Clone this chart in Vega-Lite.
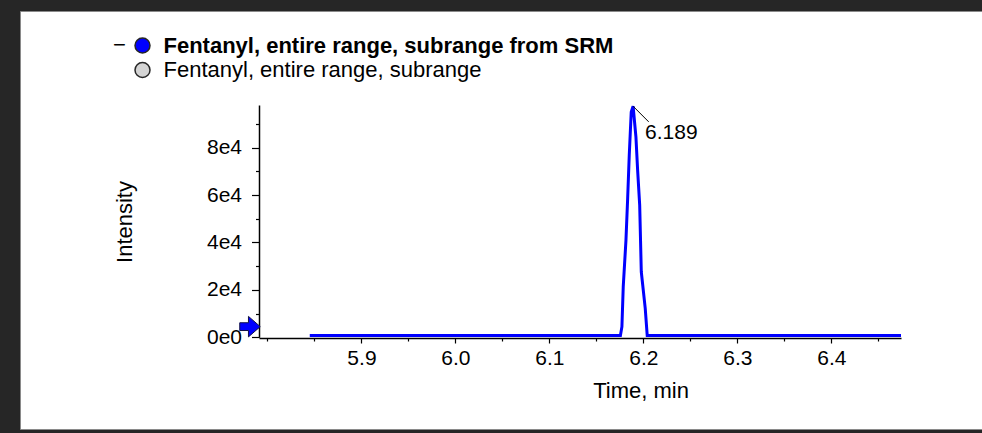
{
  "$schema": "https://vega.github.io/schema/vega-lite/v6.json",
  "width": 977,
  "height": 418,
  "autosize": {"type": "none"},
  "padding": {"left": 20, "top": 11, "right": -15, "bottom": 4},
  "background": "#262626",
  "config": {
    "font": "Liberation Sans",
    "view": {"fill": "#ffffff", "stroke": "#8a8a8a", "strokeWidth": 1},
    "axis": {
      "grid": false,
      "domainColor": "#000000",
      "domainWidth": 1.5,
      "tickColor": "#000000",
      "tickWidth": 1.2,
      "labelColor": "#000000",
      "titleColor": "#000000",
      "labelFont": "Liberation Sans",
      "labelFontSize": 21,
      "titleFont": "Liberation Sans",
      "titleFontSize": 22,
      "titleFontWeight": "normal",
      "labelFlush": false,
      "labelOverlap": false
    }
  },
  "datasets": {
    "trace": [
      {"time": 5.845, "intensity": 800},
      {"time": 5.9, "intensity": 800},
      {"time": 6.0, "intensity": 800},
      {"time": 6.1, "intensity": 800},
      {"time": 6.1755, "intensity": 800},
      {"time": 6.1771, "intensity": 4470},
      {"time": 6.1785, "intensity": 21320},
      {"time": 6.1814, "intensity": 41000},
      {"time": 6.1832, "intensity": 58570},
      {"time": 6.1849, "intensity": 76820},
      {"time": 6.187, "intensity": 95070},
      {"time": 6.189, "intensity": 97470},
      {"time": 6.192, "intensity": 84530},
      {"time": 6.1938, "intensity": 70500},
      {"time": 6.196, "intensity": 55750},
      {"time": 6.1977, "intensity": 27640},
      {"time": 6.2019, "intensity": 12220},
      {"time": 6.204, "intensity": 800},
      {"time": 6.3, "intensity": 800},
      {"time": 6.4, "intensity": 800},
      {"time": 6.474, "intensity": 800}
    ],
    "marker": [
      {"time": 5.791, "intensity": 4500}
    ]
  },
  "layer": [
    {
      "data": {"name": "trace"},
      "mark": {"type": "line", "color": "#0000ff", "strokeWidth": 3},
      "encoding": {
        "x": {
          "field": "time",
          "type": "quantitative",
          "title": "Time, min",
          "scale": {"domain": [5.791, 6.474], "range": [239, 881], "nice": false, "zero": false},
          "axis": {
            "orient": "bottom",
            "offset": -91,
            "titleX": 620.5,
            "titleY": 52,
            "titleBaseline": "middle",
            "titleAlign": "center",
            "values": [5.8, 5.85, 5.9, 5.95, 6.0, 6.05, 6.1, 6.15, 6.2, 6.25, 6.3, 6.35, 6.4, 6.45],
            "labelExpr": "abs(datum.value * 10 - round(datum.value * 10)) < 0.001 && datum.value > 5.85 ? format(datum.value, '.1f') : ''",
            "tickSize": {"condition": {"test": "abs(datum.value * 10 - round(datum.value * 10)) < 0.001 && datum.value > 5.85", "value": 5}, "value": 3},
            "labelPadding": 4
          }
        },
        "y": {
          "field": "intensity",
          "type": "quantitative",
          "title": "Intensity",
          "scale": {"domain": [0, 98000], "range": [326.3, 94], "nice": false, "zero": false},
          "axis": {
            "orient": "left",
            "offset": -239,
            "titleX": -135,
            "titleY": 210.5,
            "titleAngle": -90,
            "titleBaseline": "middle",
            "titleAlign": "center",
            "values": [0, 10000, 20000, 30000, 40000, 50000, 60000, 70000, 80000, 90000],
            "labelExpr": "datum.value % 20000 === 0 ? replace(format(datum.value, '.0e'), '+', '') : ''",
            "tickSize": {"condition": {"test": "datum.value % 20000 === 0", "value": 7.5}, "value": 3.5},
            "labelPadding": 10
          }
        }
      }
    },
    {
      "data": {"name": "marker"},
      "mark": {
        "type": "point",
        "shape": "M -1 -0.38 L -0.15 -0.38 L -0.15 -1 L 1 0 L -0.15 1 L -0.15 0.38 L -1 0.38 Z",
        "filled": true,
        "fill": "#0000ff",
        "stroke": "#10104a",
        "strokeWidth": 1,
        "size": 420,
        "opacity": 1,
        "xOffset": -9
      },
      "encoding": {
        "x": {"field": "time", "type": "quantitative", "title": "Time, min"},
        "y": {"field": "intensity", "type": "quantitative", "title": "Intensity"}
      }
    },
    {
      "data": {"name": "marker"},
      "mark": {"type": "point", "filled": true, "opacity": 0, "stroke": "#262626", "strokeWidth": 1.5},
      "encoding": {
        "x": {"field": "time", "type": "quantitative", "title": "Time, min"},
        "y": {"field": "intensity", "type": "quantitative", "title": "Intensity"},
        "color": {
          "datum": "Fentanyl, entire range, subrange from SRM",
          "type": "nominal",
          "scale": {
            "domain": ["Fentanyl, entire range, subrange from SRM", "Fentanyl, entire range, subrange"],
            "range": ["#0000ff", "#d4d4d4"]
          },
          "legend": {
            "orient": "none",
            "legendX": 93,
            "legendY": 23.5,
            "padding": 0,
            "symbolType": "circle",
            "symbolSize": 225,
            "symbolOpacity": 1,
            "symbolStrokeColor": "#262626",
            "symbolStrokeWidth": 1.5,
            "labelFont": "Liberation Sans",
            "labelFontSize": 22,
            "labelColor": "#000000",
            "labelFontWeight": {"expr": "datum.value === 'Fentanyl, entire range, subrange from SRM' ? 'bold' : 'normal'"},
            "labelOffset": 10,
            "labelLimit": 700,
            "rowPadding": 2.5,
            "title": "−",
            "titleOrient": "left",
            "titleAnchor": "start",
            "titleBaseline": "top",
            "titleFontSize": 22,
            "titleFontWeight": "normal",
            "titleColor": "#000000",
            "titlePadding": 5.5
          }
        }
      }
    },
    {
      "data": {"name": "trace"},
      "transform": [{"filter": "datum.time === 6.189"}],
      "mark": {
        "type": "point",
        "shape": "M -1 -1 L 1 1",
        "filled": false,
        "stroke": "#000000",
        "strokeWidth": 1,
        "size": 243,
        "opacity": 1,
        "xOffset": 7.8,
        "yOffset": 7.8
      },
      "encoding": {
        "x": {"field": "time", "type": "quantitative", "title": "Time, min"},
        "y": {"field": "intensity", "type": "quantitative", "title": "Intensity"}
      }
    },
    {
      "data": {"name": "trace"},
      "transform": [{"filter": "datum.time === 6.189"}],
      "mark": {
        "type": "text",
        "align": "left",
        "baseline": "middle",
        "dx": 12,
        "dy": 27,
        "font": "Liberation Sans",
        "fontSize": 21,
        "color": "#000000"
      },
      "encoding": {
        "x": {"field": "time", "type": "quantitative", "title": "Time, min"},
        "y": {"field": "intensity", "type": "quantitative", "title": "Intensity"},
        "text": {"field": "time", "type": "quantitative", "format": ".3f"}
      }
    }
  ]
}
